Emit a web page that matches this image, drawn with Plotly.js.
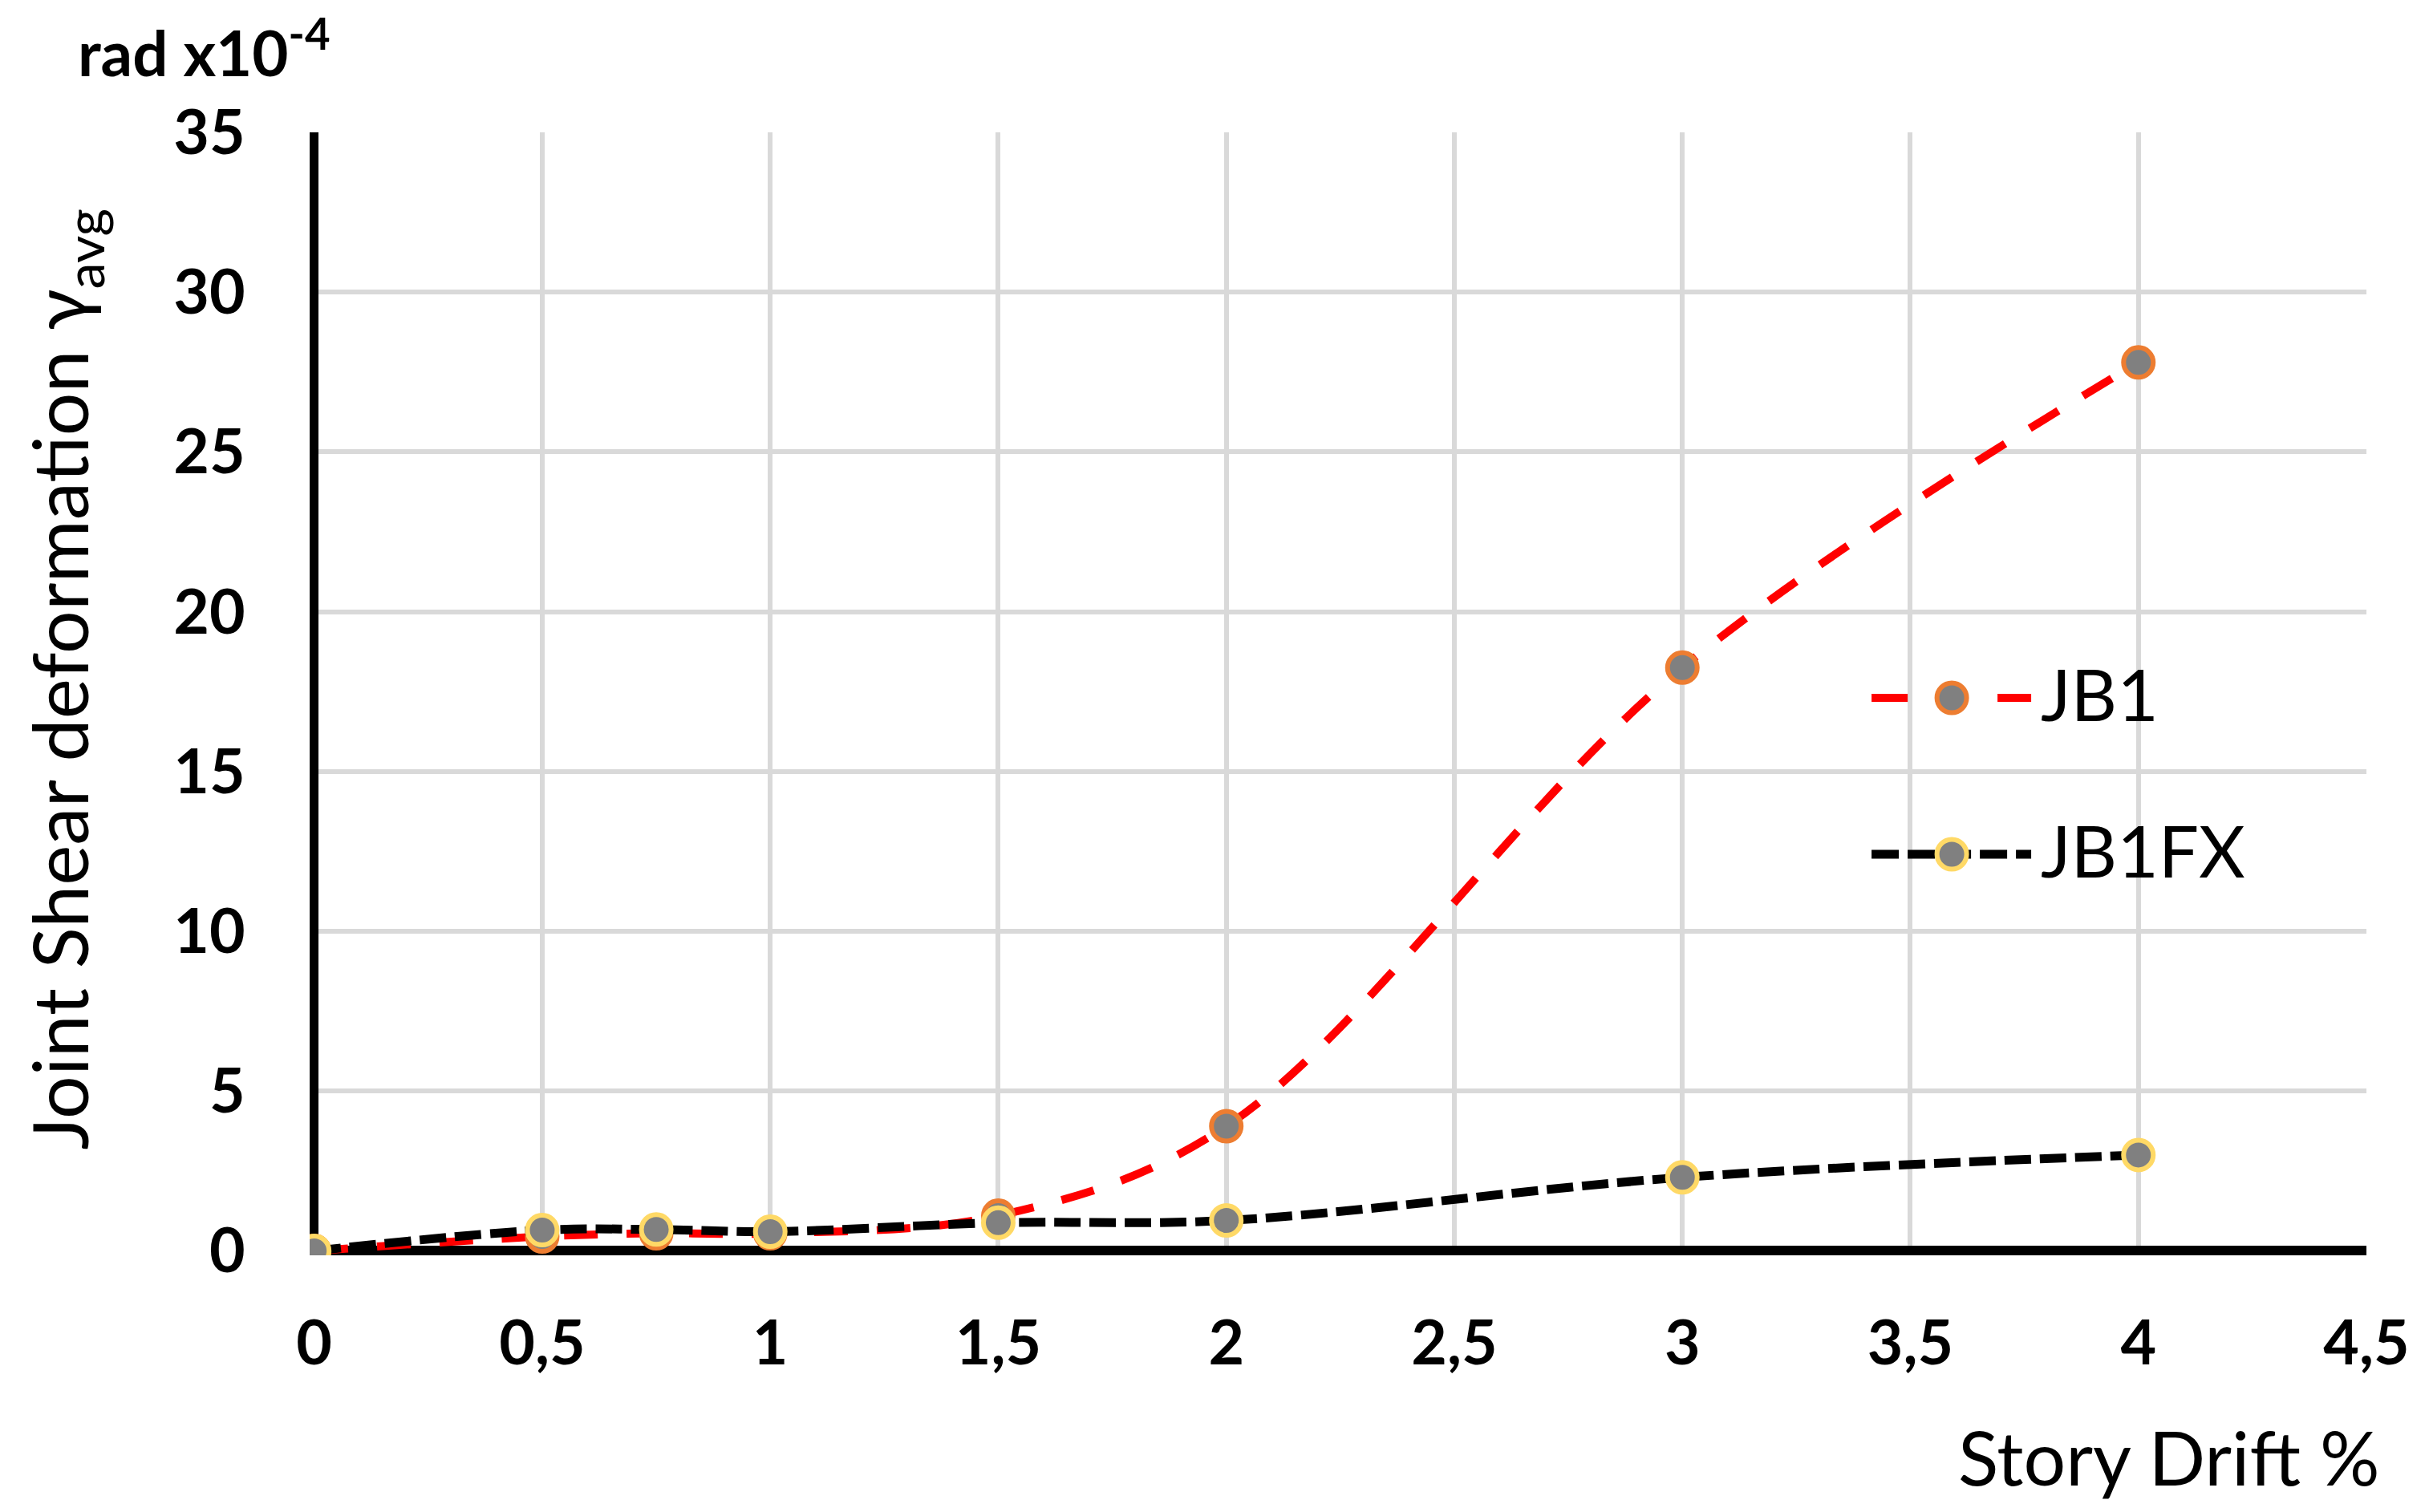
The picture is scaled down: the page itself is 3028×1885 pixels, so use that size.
<!DOCTYPE html>
<html>
<head>
<meta charset="utf-8">
<script src="https://cdn.plot.ly/plotly-3.0.1.min.js"></script>
<style>html,body{margin:0;padding:0;background:#fff;}#chart{width:3028px;height:1885px;}</style>
</head>
<body>
<div id="chart"></div>
<script>
// Data
var drift = [0, 0.5, 0.75, 1, 1.5, 2, 3, 4];
var jb1 = [0, 0.45, 0.55, 0.55, 1.1, 3.9, 18.25, 27.8];
var jb1fx = [0, 0.65, 0.67, 0.6, 0.88, 0.95, 2.3, 3.0];
var seriesNames = ['JB1', 'JB1FX'];
var xTicks = [0, 0.5, 1, 1.5, 2, 2.5, 3, 3.5, 4, 4.5];
var yTicks = [0, 5, 10, 15, 20, 25, 30, 35];

var FONT = 'Lato, "Open Sans", sans-serif';
var styles = [
  {line: '#FF0000', lw: 10, dash: '42px,36px', mk: '#ED7D31', legDash: '45px,112px,42px,100px'},
  {line: '#000000', lw: 11, dash: '33px,11px', mk: '#FFD966', legDash: '34px,11px'}
];

var traces = [jb1, jb1fx].map(function (vals, i) {
  return {
    x: drift, y: vals, name: seriesNames[i], type: 'scatter', mode: 'lines+markers',
    showlegend: false,
    line: {color: styles[i].line, width: styles[i].lw, dash: styles[i].dash, shape: 'spline', smoothing: 1},
    marker: {size: 37, color: '#808080', line: {color: styles[i].mk, width: 6}}
  };
});

// Custom legend (Plotly caps legend marker size), positioned in paper coordinates
var legX0 = 0.7594, legX1 = 0.8370, legMk = 0.7984, legTxt = 0.8410;
var legY = [0.4964, 0.3571];
var legTxtY = [0.5007, 0.3614];
var shapes = [];
var legendTexts = [];
for (var i = 0; i < 2; i++) {
  shapes.push({
    type: 'line', xref: 'paper', yref: 'paper', x0: legX0, x1: legX1, y0: legY[i], y1: legY[i],
    line: {color: styles[i].line, width: styles[i].lw, dash: styles[i].legDash}, layer: 'above'
  });
}
for (var j = 0; j < 2; j++) {
  shapes.push({
    type: 'circle', xref: 'paper', yref: 'paper', xsizemode: 'pixel', ysizemode: 'pixel',
    xanchor: legMk, yanchor: legY[j], x0: -18.5, x1: 18.5, y0: -18.5, y1: 18.5,
    fillcolor: '#808080', line: {color: styles[j].mk, width: 6}, layer: 'above'
  });
  legendTexts.push({
    text: seriesNames[j], xref: 'paper', yref: 'paper', x: legTxt, y: legTxtY[j],
    xanchor: 'left', yanchor: 'middle', showarrow: false,
    font: {family: FONT, size: 89, color: '#000000'}
  });
}

var layout = {
  width: 3028, height: 1885,
  paper_bgcolor: '#ffffff', plot_bgcolor: '#ffffff',
  margin: {l: 386, r: 78, t: 165, b: 320, pad: 0},
  separators: ',.',
  font: {family: FONT, color: '#000000'},
  showlegend: false,
  xaxis: {
    range: [-0.01, 4.5], tickmode: 'array', tickvals: xTicks,
    showgrid: true, gridcolor: '#D9D9D9', gridwidth: 6,
    zeroline: true, zerolinecolor: '#000000', zerolinewidth: 11,
    showline: false,
    ticks: 'outside', ticklen: 43, tickcolor: 'rgba(0,0,0,0)',
    tickfont: {family: FONT, size: 77, color: '#000000', weight: 'bold'}
  },
  yaxis: {
    range: [-0.14, 35], tickmode: 'array', tickvals: yTicks,
    showgrid: true, gridcolor: '#D9D9D9', gridwidth: 6,
    zeroline: true, zerolinecolor: '#000000', zerolinewidth: 12,
    showline: false,
    ticks: 'outside', ticklen: 64, tickcolor: 'rgba(0,0,0,0)',
    tickfont: {family: FONT, size: 77, color: '#000000', weight: 'bold'}
  },
  shapes: shapes,
  annotations: [
    {
      text: 'rad x10<sup>-4</sup>', xref: 'paper', yref: 'paper',
      x: 0.011, y: 1.075, xanchor: 'right', yanchor: 'middle', showarrow: false,
      font: {family: FONT, size: 78, color: '#000000', weight: 'bold'}
    },
    {
      text: 'Joint Shear deformation γ<sub>avg</sub>', xref: 'paper', yref: 'paper',
      x: -0.1195, y: 0.513, xanchor: 'center', yanchor: 'middle', textangle: -90, showarrow: false,
      font: {family: FONT, size: 95, color: '#000000'}
    },
    {
      text: 'Story Drift %', xref: 'paper', yref: 'paper',
      x: 1.007, y: -0.179, xanchor: 'right', yanchor: 'middle', showarrow: false,
      font: {family: FONT, size: 93, color: '#000000'}
    }
  ].concat(legendTexts)
};

Plotly.newPlot('chart', traces, layout, {displayModeBar: false, staticPlot: true});
</script>
</body>
</html>
